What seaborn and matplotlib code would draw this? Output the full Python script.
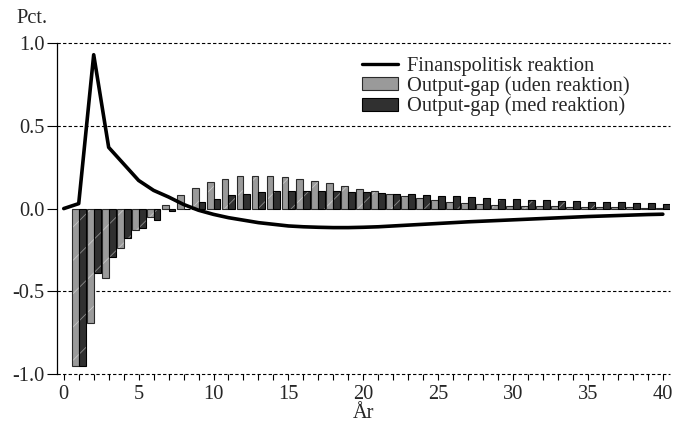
import matplotlib
matplotlib.use("Agg")
import matplotlib.pyplot as plt
import numpy as np
import pandas as pd
import seaborn as sns
from matplotlib.lines import Line2D
from matplotlib.patches import Patch

# Years after the shock
years = list(range(1, 41))

# Output gap without fiscal reaction (pct.)
gap_uden = [-0.95, -0.69, -0.42, -0.24, -0.13, -0.05, 0.02, 0.085, 0.127, 0.16,
            0.18, 0.196, 0.198, 0.198, 0.19, 0.18, 0.168, 0.156, 0.139, 0.121,
            0.109, 0.091, 0.075, 0.062, 0.05, 0.04, 0.034, 0.028, 0.022, 0.018,
            0.017, 0.014, 0.013, 0.012, 0.01, 0.01, 0.008, 0.008, 0.006, 0.006]

# Output gap with fiscal reaction (pct.)
gap_med = [-0.95, -0.39, -0.29, -0.18, -0.12, -0.07, -0.016, -0.005, 0.04, 0.06,
           0.08, 0.09, 0.10, 0.105, 0.105, 0.105, 0.107, 0.109, 0.10, 0.10,
           0.097, 0.091, 0.087, 0.085, 0.079, 0.075, 0.072, 0.065, 0.059, 0.058,
           0.054, 0.05, 0.047, 0.045, 0.041, 0.039, 0.037, 0.035, 0.031, 0.029]

# Fiscal policy reaction (pct.), year 0..40
line_years = list(range(0, 41))
reaktion = [0.0, 0.03, 0.93, 0.37, 0.27, 0.17, 0.11, 0.07, 0.025, -0.01,
            -0.035, -0.055, -0.07, -0.085, -0.095, -0.105, -0.11, -0.113, -0.115, -0.115,
            -0.113, -0.11, -0.105, -0.1, -0.095, -0.09, -0.085, -0.08, -0.076, -0.072,
            -0.068, -0.064, -0.06, -0.056, -0.052, -0.048, -0.045, -0.042, -0.039, -0.036,
            -0.034]

lbl_line = "Finanspolitisk reaktion"
lbl_uden = "Output-gap (uden reaktion)"
lbl_med = "Output-gap (med reaktion)"

bars = pd.DataFrame({
    "År": years + years,
    "value": gap_uden + gap_med,
    "serie": [lbl_uden] * len(years) + [lbl_med] * len(years),
})
line_df = pd.DataFrame({"År": line_years, "value": reaktion})

sns.set_theme(style="white")
plt.rcParams["font.family"] = ["Liberation Serif", "DejaVu Serif"]
plt.rcParams["hatch.linewidth"] = 0.6

FS = 14.7
col_uden = "#9a9a9a"
col_med = "#303030"

fig = plt.figure(figsize=(6.73, 4.23), dpi=100)
ax = fig.add_axes([0.0847, 0.1158, 0.9113, 0.7822])

sns.barplot(data=bars, x="År", y="value", hue="serie",
            hue_order=[lbl_uden, lbl_med],
            palette=[col_uden, col_med], native_scale=True,
            dodge=True, width=0.92, errorbar=None, legend=False,
            saturation=1, ax=ax, zorder=2)

for p in ax.patches:
    fc = p.get_facecolor()
    dark = fc[0] < 0.4
    p.set_edgecolor("#000000" if dark else "#2a2a2a")
    p.set_linewidth(0.8)
    p.set_hatch("/")
    p._hatch_color = (0.55, 0.55, 0.55, 1) if dark else (0.78, 0.78, 0.78, 1)

sns.lineplot(data=line_df, x="År", y="value", color="black", lw=2.6,
             ax=ax, zorder=4)

# Dashed reference lines
for yv in [1.0, 0.5, -0.5, -1.0]:
    ax.axhline(yv, color="black", lw=0.8, ls=(0, (3, 2)), zorder=1,
               clip_on=False)

ax.set_xlim(-0.45, 40.5)
ax.set_ylim(-1.0, 1.0)
ax.set_yticks([-1.0, -0.5, 0.0, 0.5, 1.0])
ax.set_yticklabels(["-1.0", "-0.5", "0.0", "0.5", "1.0"], fontsize=FS)
ax.set_xticks(range(0, 41, 5))
ax.set_xticklabels([str(v) for v in range(0, 41, 5)], fontsize=FS)
ax.set_xticks(range(0, 41), minor=True)
ax.tick_params(axis="y", direction="out", length=7, width=0.8, color="black",
               left=True, pad=2)
ax.tick_params(axis="x", which="both", direction="out", length=4, width=0.8,
               color="black", bottom=True, pad=4)

for side in ["top", "right", "bottom"]:
    ax.spines[side].set_visible(False)
ax.spines["left"].set_color("black")
ax.spines["left"].set_linewidth(0.9)

ax.set_xlabel("År", fontsize=FS, labelpad=0)
ax.set_ylabel("")
fig.text(0.048, 0.957, "Pct.", fontsize=FS, ha="center", va="center")

handles = [
    Line2D([0], [0], color="black", lw=2.4),
    Patch(facecolor=col_uden, edgecolor="#2a2a2a", lw=0.8),
    Patch(facecolor=col_med, edgecolor="black", lw=0.8),
]
leg = ax.legend(handles, [lbl_line, lbl_uden, lbl_med], loc="upper right",
                bbox_to_anchor=(0.947, 0.984), frameon=False, fontsize=FS,
                handlelength=1.75, handleheight=0.6, handletextpad=0.45,
                labelspacing=0.03, borderaxespad=0)

fig.savefig("out.png", dpi=100, facecolor="white")
